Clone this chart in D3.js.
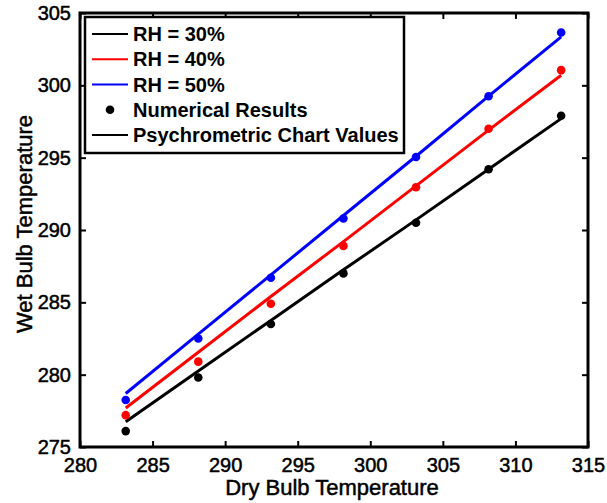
<!DOCTYPE html>
<html><head><meta charset="utf-8">
<script src="https://cdn.jsdelivr.net/npm/d3@7"></script>
<style>body{margin:0;background:#fff}svg{display:block}text{font-family:"Liberation Sans",Arial,sans-serif}</style>
</head><body><svg id="c" width="607" height="503"></svg>
<script>
const dryBulb = [283.15, 288.15, 293.15, 298.15, 303.15, 308.15, 313.15];
const num30 = [276.1, 279.8, 283.5, 287.0, 290.5, 294.2, 297.9];
const num40 = [277.2, 280.9, 284.9, 288.9, 292.95, 297.0, 301.05];
const num50 = [278.25, 282.5, 286.7, 290.8, 295.05, 299.25, 303.65];
const chart30 = [276.75, 280.25, 283.75, 287.25, 290.7, 294.2, 297.7];
const chart40 = [277.7, 281.55, 285.4, 289.2, 293.05, 296.9, 300.7];
const chart50 = [278.7, 282.8, 286.9, 291.0, 295.1, 299.25, 303.35];
const seriesNames = ["RH = 30%", "RH = 40%", "RH = 50%"];
const seriesColors = ["#000000", "#ff0000", "#0000ff"];
const legendLabels = ["RH = 30%", "RH = 40%", "RH = 50%", "Numerical Results", "Psychrometric Chart Values"];
const xTicks = [280, 285, 290, 295, 300, 305, 310, 315];
const yTicks = [275, 280, 285, 290, 295, 300, 305];

const svg = d3.select("#c");
const L = 80, R = 588, T = 13, B = 447;
const x = d3.scaleLinear().domain([280, 315]).range([L, R]);
const y = d3.scaleLinear().domain([275, 305]).range([B, T]);

const series = [
  {num: num30, chart: chart30, color: seriesColors[0]},
  {num: num40, chart: chart40, color: seriesColors[1]},
  {num: num50, chart: chart50, color: seriesColors[2]}
];

const line = d3.line().x((d,i)=>x(dryBulb[i])).y(d=>y(d));
series.forEach(s => {
  svg.append("path").attr("d", line(s.chart)).attr("fill","none")
    .attr("stroke", s.color).attr("stroke-width", 3);
});
series.forEach(s => {
  svg.append("g").selectAll("circle").data(s.num).join("circle")
    .attr("cx",(d,i)=>x(dryBulb[i])).attr("cy",d=>y(d)).attr("r",4.3).attr("fill",s.color);
});

// axes
const fs = 20;
const xb = svg.append("g").attr("transform",`translate(0,${B})`).call(d3.axisBottom(x).tickValues(xTicks).tickSize(-6).tickPadding(11).tickFormat(d3.format("d")));
const xt = svg.append("g").attr("transform",`translate(0,${T})`).call(d3.axisTop(x).tickValues(xTicks).tickSize(-6).tickFormat(""));
const yl = svg.append("g").attr("transform",`translate(${L},0)`).call(d3.axisLeft(y).tickValues(yTicks).tickSize(-6).tickPadding(9).tickFormat(d3.format("d")));
const yr = svg.append("g").attr("transform",`translate(${R},0)`).call(d3.axisRight(y).tickValues(yTicks).tickSize(-6).tickFormat(""));
[xb,xt,yl,yr].forEach(g=>{
  g.select(".domain").remove();
  g.selectAll(".tick line").attr("stroke","#000").attr("stroke-width",2);
  g.selectAll(".tick text").attr("font-size",fs).attr("fill","#000").attr("font-family",null)
    .attr("stroke","#000").attr("stroke-width",0.5);
});
svg.append("rect").attr("x",L).attr("y",T).attr("width",R-L).attr("height",B-T)
  .attr("fill","none").attr("stroke","#000").attr("stroke-width",3);

svg.append("text").attr("x",(L+R)/2 - 2).attr("y",495).attr("text-anchor","middle")
  .attr("font-size",22).attr("stroke","#000").attr("stroke-width",0.5).text("Dry Bulb Temperature");
svg.append("text").attr("transform",`translate(32,${(T+B)/2-6}) rotate(-90)`).attr("text-anchor","middle")
  .attr("font-size",22).attr("stroke","#000").attr("stroke-width",0.5).text("Wet Bulb Temperature");

// legend
const lg = svg.append("g");
lg.append("rect").attr("x",85).attr("y",17).attr("width",319).attr("height",136)
  .attr("fill","#fff").attr("stroke","#000").attr("stroke-width",2.5);
const rowY = d3.scaleLinear().domain([0,4]).range([34,135]);
legendLabels.forEach((lab,i)=>{
  const yy = rowY(i);
  if (i===3) {
    lg.append("circle").attr("cx",110).attr("cy",yy).attr("r",4.3).attr("fill","#000");
  } else {
    const c = i<3 ? seriesColors[i] : "#000";
    lg.append("line").attr("x1",92).attr("x2",128).attr("y1",yy).attr("y2",yy)
      .attr("stroke",c).attr("stroke-width",2);
  }
  lg.append("text").attr("x",133).attr("y",yy).attr("dy","0.36em")
    .attr("font-size",20).attr("font-weight","bold").text(lab);
});
</script></body></html>
